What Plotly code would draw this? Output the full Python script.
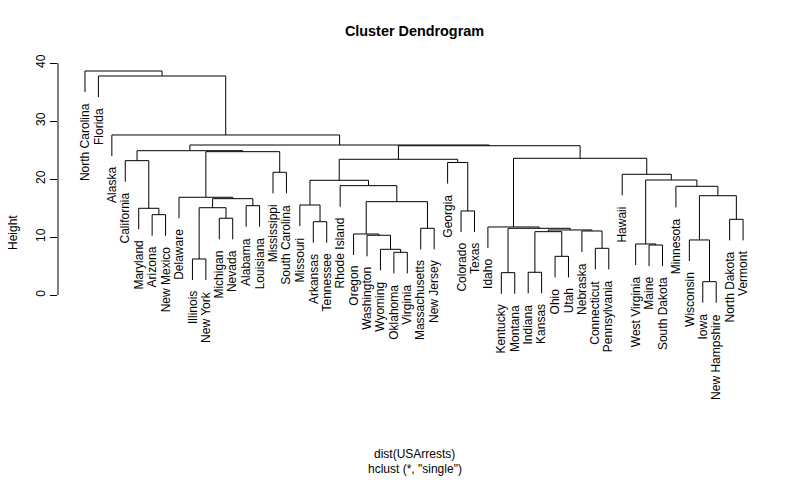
import plotly.graph_objects as go

# Leaf order (left to right) of the dendrogram
labels = ["North Carolina", "Florida", "Alaska", "California", "Maryland", "Arizona",
          "New Mexico", "Delaware", "Illinois", "New York", "Michigan", "Nevada",
          "Alabama", "Louisiana", "Mississippi", "South Carolina", "Missouri", "Arkansas",
          "Tennessee", "Rhode Island", "Oregon", "Washington", "Wyoming", "Oklahoma",
          "Virginia", "Massachusetts", "New Jersey", "Georgia", "Colorado", "Texas",
          "Idaho", "Kentucky", "Montana", "Indiana", "Kansas", "Ohio", "Utah", "Nebraska",
          "Connecticut", "Pennsylvania", "Hawaii", "West Virginia", "Maine", "South Dakota",
          "Minnesota", "Wisconsin", "Iowa", "New Hampshire", "North Dakota", "Vermont"]

# Merge steps (strings = leaves, ints = earlier merge number, 1-based)
merge_left = ["Iowa", "Kentucky", "Indiana", "Illinois", "Ohio", "Oklahoma", "Wyoming",
              "Connecticut", "Maine", "West Virginia", "Wisconsin", "Washington", "Oregon",
              3, "Nebraska", 14, 2, "Massachusetts", "Idaho", "Arkansas", "North Dakota",
              "Michigan", "Arizona", "Colorado", "Maryland", 4, "Alabama", "Missouri", 13,
              26, "Delaware", 11, "Minnesota", "Rhode Island", 28, 10, "Hawaii",
              "Mississippi", "Georgia", "California", 35, 19, 31, 40, 41, 44, "Alaska",
              "Florida", "North Carolina"]
merge_right = ["New Hampshire", "Montana", "Kansas", "New York", "Utah", "Virginia", 6,
               "Pennsylvania", "South Dakota", 9, 1, 7, 12, 5, 8, 15, 16, "New Jersey", 17,
               "Tennessee", "Vermont", "Nevada", "New Mexico", "Texas", 23, 22, "Louisiana",
               20, 18, 27, 30, 21, 32, 29, 34, 33, 36, "South Carolina", 24, 25, 39, 37, 38,
               43, 42, 45, 46, 47, 48]
heights = [2.32, 3.87, 3.94, 6.23, 6.69, 7.38, 7.90, 8.07, 8.64, 8.82, 9.51, 10.32, 10.54,
           10.94, 11.06, 11.23, 11.52, 11.52, 11.75, 12.66, 13.07, 13.25, 13.87, 14.51,
           14.97, 15.07, 15.42, 15.54, 16.11, 16.63, 16.87, 17.14, 18.76, 18.87, 19.80,
           19.85, 20.83, 21.18, 22.87, 23.18, 23.42, 23.59, 24.73, 24.90, 25.76, 25.88,
           27.61, 37.78, 38.64]

y_ticks = [0, 10, 20, 30, 40]

title_text = "Cluster Dendrogram"
xlab_text = "dist(USArrests)"
sub_text = 'hclust (*, "single")'
ylab_text = "Height"

FONT = "Liberation Sans, Arial, sans-serif"

hang = 0.1 * (max(heights) - min(heights))
leaf_x = {name: i + 1 for i, name in enumerate(labels)}
node_x = {}

xs, ys = [], []
leaf_bottom = {}
for k, (a, b, h) in enumerate(zip(merge_left, merge_right, heights), start=1):
    pts = []
    for c in (a, b):
        if isinstance(c, str):
            cx, cy = leaf_x[c], h - hang
            leaf_bottom[c] = cy
        else:
            cx, cy = node_x[c], heights[c - 1]
        pts.append((cx, cy))
    (x1, y1), (x2, y2) = pts
    xs += [x1, x1, x2, x2, None]
    ys += [y1, h, h, y2, None]
    node_x[k] = (x1 + x2) / 2

fig = go.Figure()
fig.add_trace(go.Scatter(x=xs, y=ys, mode="lines",
                         line=dict(color="#000000", width=1),
                         hoverinfo="skip", showlegend=False))

annotations = []
for name in labels:
    annotations.append(dict(x=leaf_x[name], y=leaf_bottom[name], xref="x", yref="y",
                            text=name, showarrow=False, textangle=-90,
                            xanchor="center", yanchor="top", yshift=-9,
                            font=dict(family=FONT, size=12, color="#000000")))

annotations.append(dict(x=0, xref="paper", xshift=-45, y=0.5, yref="paper",
                        text=ylab_text, showarrow=False, textangle=-90,
                        xanchor="center", yanchor="middle",
                        font=dict(family=FONT, size=12, color="#000000")))
annotations.append(dict(x=0.5, xref="paper", y=0, yref="paper", yshift=-47,
                        text=xlab_text, showarrow=False, xanchor="center", yanchor="middle",
                        borderpad=0,
                        font=dict(family=FONT, size=12, color="#000000")))
annotations.append(dict(x=0.5, xref="paper", y=0, yref="paper", yshift=-62,
                        text=sub_text, showarrow=False, xanchor="center", yanchor="middle",
                        borderpad=0,
                        font=dict(family=FONT, size=12, color="#000000")))

fig.update_layout(
    width=800, height=480,
    margin=dict(l=58, r=29, t=59, b=73),
    paper_bgcolor="white", plot_bgcolor="white",
    title=dict(text="<b>" + title_text + "</b>", x=0.5, xref="paper", xanchor="center",
               y=1 - 30.7 / 480, yref="container", yanchor="middle",
               font=dict(family=FONT, size=14.4, color="#000000")),
    xaxis=dict(range=[-1.01, 52.08], visible=False, fixedrange=True),
    yaxis=dict(range=[-19.29, 40.71], tickvals=y_ticks, ticktext=[str(t) for t in y_ticks],
               ticks="outside", ticklen=7, tickcolor="#000000", tickwidth=1,
               tickangle=-90, showgrid=False, zeroline=False, showline=False,
               tickfont=dict(family=FONT, size=12, color="#000000")),
    shapes=[dict(type="line", xref="paper", x0=0, x1=0, yref="y",
                 y0=min(y_ticks), y1=max(y_ticks), line=dict(color="#000000", width=1))],
    annotations=annotations,
)

fig.write_html("out.html")
